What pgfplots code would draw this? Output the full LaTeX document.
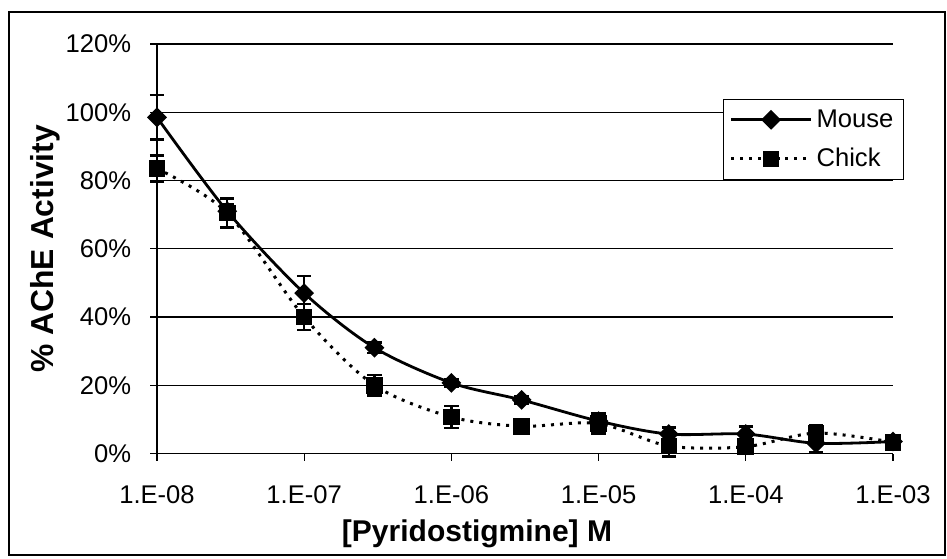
\documentclass[border=0pt]{standalone}
\usepackage{fontspec}
\setmainfont{Liberation Sans}
\usepackage{pgfplots}
\pgfplotsset{compat=1.18}

% % AChE activity vs pyridostigmine concentration, mean and error
\pgfplotstableread{
x       y     e
1e-8    98.5  6.5
3e-8    71.0  2.0
1e-7    47.0  5.0
3e-7    31.0  1.5
1e-6    20.7  1.0
3e-6    15.7  1.0
1e-5     9.5  1.5
3e-5     5.7  2.0
1e-4     5.7  2.2
3e-4     3.0  2.7
1e-3     3.5  1.0
}\mouse
\pgfplotstableread{
x       y     e
1e-8    83.5  3.8
3e-8    70.5  4.3
1e-7    40.0  3.8
3e-7    20.0  3.0
1e-6    10.7  3.2
3e-6     8.0  1.0
1e-5     8.8  3.0
3e-5     2.2  3.0
1e-4     2.0  2.0
3e-4     6.0  2.4
1e-3     3.3  1.5
}\chick

\newcommand\tickfont{\fontsize{12.8}{14}\selectfont}

\begin{document}
\begin{tikzpicture}[x=1pt,y=1pt]
\useasboundingbox (0,0) rectangle (473.5,279);
\draw[line width=0.9pt] (4.5,1.5) rectangle (472.5,273);
\begin{axis}[
  at={(78.5pt,52.25pt)}, anchor=south west,
  scale only axis, width=368pt, height=204.75pt,
  xmode=log, xmin=1e-8, xmax=1e-3,
  ymin=0, ymax=120,
  xtick={1e-8,1e-7,1e-6,1e-5,1e-4,1e-3},
  xticklabels={1.E-08,1.E-07,1.E-06,1.E-05,1.E-04,1.E-03},
  xminorticks=false,
  ytick={0,20,40,60,80,100,120},
  yticklabels={0\%,20\%,40\%,60\%,80\%,100\%,120\%},
  axis lines*=left,
  axis line style={line width=0.6pt,-},
  ymajorgrids, grid style={line width=0.6pt,black},
  tick align=outside, major tick length=3.5pt,
  tick style={line width=0.6pt,black},
  tick label style={font=\tickfont, inner sep=0pt},
  xticklabel style={yshift=-12.2pt},
  yticklabel style={xshift=-9.2pt},
  xlabel={[Pyridostigmine] M},
  ylabel={\% AChE Activity},
  xlabel style={font=\fontsize{15}{17}\selectfont\bfseries, inner sep=0pt,
    at={(rel axis cs:0.4348,-0.195)}, anchor=center},
  ylabel style={font=\fontsize{15.9}{17}\selectfont\bfseries, inner sep=0pt,
    at={(rel axis cs:-0.1522,0.5)}, anchor=center},
  clip=false,
  legend style={at={(rel axis cs:0.769,0.866)}, anchor=north west,
    draw=black, line width=0.6pt, font=\tickfont,
    inner xsep=3pt, inner ysep=3pt, row sep=5pt,
    cells={anchor=west}},
  legend image code/.code={
    \draw[mark repeat=2,mark phase=2,#1]
      plot coordinates {(0pt,0pt) (20pt,0pt) (40pt,0pt)};},
  error bars/y dir=both, error bars/y explicit,
  error bars/error bar style={line width=1.2pt,black,solid},
  error bars/error mark options={rotate=90,line width=1.3pt,mark size=3.6pt,black,solid},
]
\addplot[black, line width=1.4pt, smooth, mark=square*,
  mark size=2.8pt, mark options={rotate=45,solid}]
  table[x=x, y=y, y error=e] {\mouse};
\addlegendentry{Mouse}
\addplot[black, line width=1.5pt, dash pattern=on 1.5pt off 3pt, smooth,
  mark=square*, mark size=3.4pt, mark options={solid}]
  table[x=x, y=y, y error=e] {\chick};
\addlegendentry{Chick}
\end{axis}
\end{tikzpicture}
\end{document}
